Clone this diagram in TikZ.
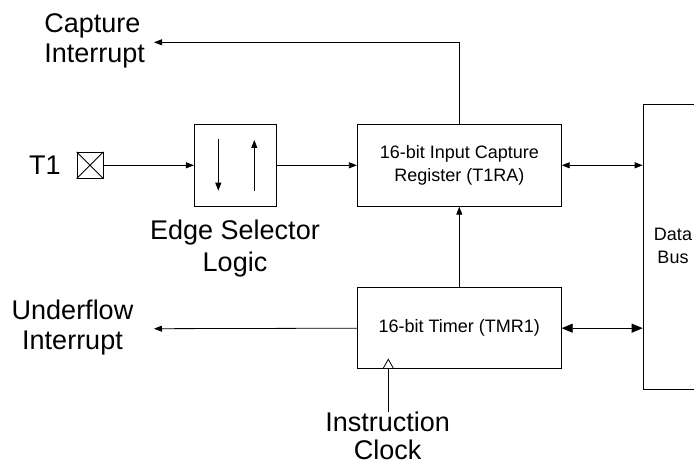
\documentclass[tikz,border=0pt]{standalone}
\usepackage{fontspec}
\setmainfont{Liberation Sans}
\usetikzlibrary{arrows.meta}
\begin{document}
\begin{tikzpicture}[x=1pt,y=-1pt,line width=0.8pt,>={Triangle[length=8pt,width=6pt]}]
		  \tikzstyle{block}=[draw,inner sep=0pt,font=\fontsize{18}{23}\selectfont,align=center];
		  \tikzstyle{label}=[inner sep=0pt,font=\fontsize{27}{32}\selectfont,align=center];
		  \tikzstyle{tight}=[font=\fontsize{27}{30}\selectfont];
		  \tikzstyle{big}=[{Triangle[length=11pt,width=9pt]}-{Triangle[length=11pt,width=9pt]}];
			\clip (0,0) rectangle (694,465);
			\path (90,165.3)    node[draw,minimum size=26pt] (pin) {};
			\path (235.2,165.3) node[block,minimum width=81.7pt,minimum height=82pt] (edge) {};
			\path (459.3,165.3) node[block,minimum width=204pt,minimum height=82pt] (reg) {16-bit Input Capture\\Register (T1RA)};
			\path (459.3,328.2) node[block,minimum width=204pt,minimum height=81pt] (tmr) {16-bit Timer (TMR1)};
			\path (642.7,104.3) node[draw,anchor=north west,minimum width=90pt,minimum height=284.7pt] (bus) {};
			\path (673,246)     node[block,draw=none] (buslbl) {Data\\Bus};

			\path (45,165)      node[label] (t1) {T1};
			\path (235,249)     node[label] (edgelbl) {Edge Selector\\Logic};
			\path (44,41)       node[label,tight,anchor=west,align=left] (capt) {Capture\\Interrupt};
			\path (72.5,328)    node[label,tight] (undf) {Underflow\\Interrupt};
			\path (387.7,436)   node[label,font=\fontsize{27}{28}\selectfont] (clk) {Instruction\\Clock};
			\coordinate (captend) at (154,42.3);
			\coordinate (undfend) at (154,328.7);

			% pin cross and edge marks
			\draw (pin.north west) -- (pin.south east) (pin.south west) -- (pin.north east);
			\draw[->] (218.3,139) -- (218.3,190.7);
			\draw[->] (254.3,191) -- (254.3,140);
			\draw (383,368.7) -- (388.3,359.3) -- (393.6,368.7);

			\path[->,draw] (pin) -- (edge);
			\path[->,draw] (edge) -- (reg);
			\path[->,draw] (reg.north) |- (captend);
			\path[->,draw] (tmr) -- (reg);
			\path[->,draw] (tmr.west) -- (undfend);
			\path[<->,draw] (reg.east) -- (reg.east -| bus.west);
			\path[big,draw] (tmr.east) -- (tmr.east -| bus.west);
			\path[draw] (clk.north -| 388.3,0) -- (388.3,368.7);
		\end{tikzpicture}
\end{document}
